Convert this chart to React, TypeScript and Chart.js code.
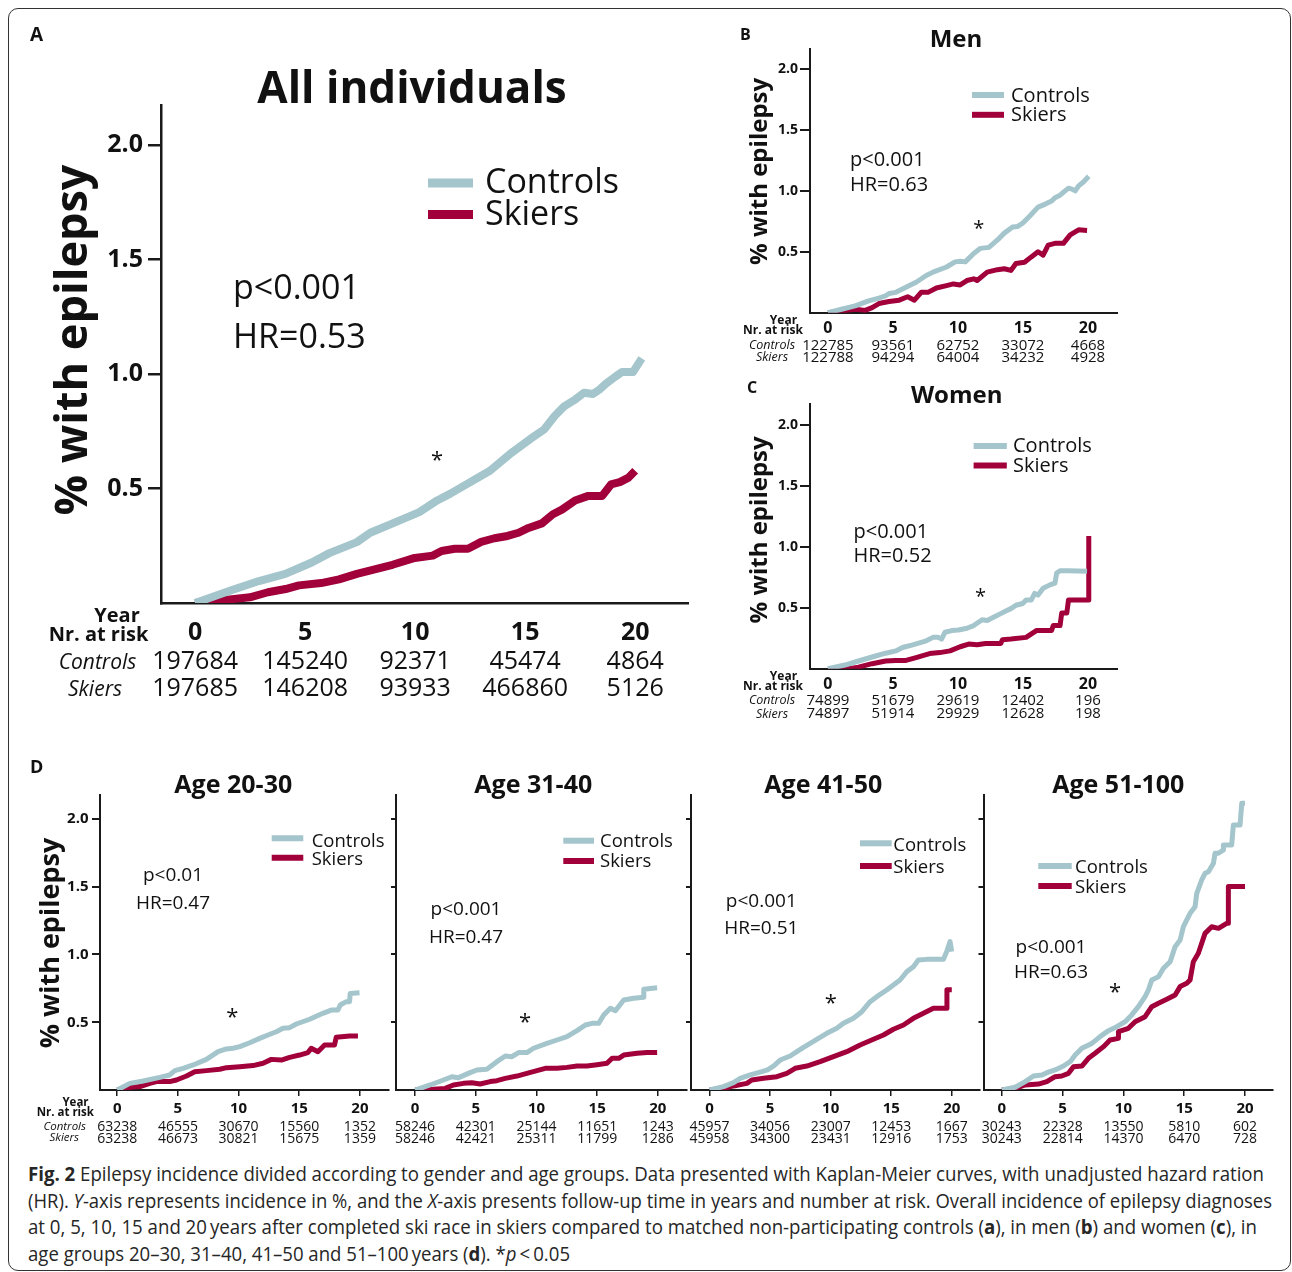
import React, { useEffect, useLayoutEffect, useRef } from 'react';
import { Chart, registerables } from 'chart.js';

Chart.register(...registerables);

type Pt = [number, number];

// ---------- shared axis values ----------
const YEAR_TICKS = [0, 5, 10, 15, 20];
const PCT_TICKS = [0.5, 1.0, 1.5, 2.0];
const SERIES_LABELS = ['Controls', 'Skiers'];
const RISK_ROW_LABELS = ['Year', 'Nr. at risk', 'Controls', 'Skiers'];
const Y_TITLE = '% with epilepsy';

// ---------- A: All individuals ----------
const A_TITLE = 'All individuals';
const A_STATS = ['p<0.001', 'HR=0.53'];
const A_CONTROLS: Pt[] = [[0,0],[1.68,0.057],[2.9,0.096],[4.1,0.127],[5.3,0.177],[6.1,0.218],[7.35,0.266],[7.96,0.307],[8.98,0.348],[10.19,0.397],[11.0,0.448],[11.6,0.478],[13.4,0.578],[14.4,0.658],[15.25,0.718],[15.86,0.758],[16.36,0.819],[16.77,0.859],[17.27,0.889],[17.68,0.919],[18.08,0.913],[18.38,0.933],[18.68,0.959],[19.1,0.989],[19.4,1.009],[19.9,1.009],[20.3,1.069]];
const A_SKIERS: Pt[] = [[0,0],[1.68,0.017],[2.49,0.025],[3.31,0.047],[4.11,0.061],[4.72,0.077],[5.73,0.087],[6.54,0.103],[7.35,0.127],[8.16,0.147],[8.97,0.167],[9.98,0.197],[10.8,0.207],[11.2,0.227],[11.8,0.237],[12.4,0.237],[13.0,0.267],[13.6,0.283],[14.2,0.293],[14.7,0.307],[15.15,0.328],[15.76,0.348],[16.26,0.388],[16.67,0.408],[17.27,0.448],[17.87,0.468],[18.5,0.468],[18.9,0.518],[19.3,0.528],[19.7,0.548],[20.0,0.578]];
const A_RISK_CONTROLS = [197684, 145240, 92371, 45474, 4864];
const A_RISK_SKIERS = [197685, 146208, 93933, 466860, 5126];

// ---------- B: Men ----------
const B_TITLE = 'Men';
const B_STATS = ['p<0.001', 'HR=0.63'];
const B_CONTROLS: Pt[] = [[0,0],[1.05,0.028],[2.09,0.056],[3.13,0.097],[3.92,0.119],[4.44,0.139],[4.7,0.158],[5.22,0.167],[6.0,0.208],[6.78,0.25],[7.56,0.305],[8.08,0.333],[9.12,0.375],[9.78,0.417],[10.17,0.422],[10.56,0.417],[11.21,0.486],[11.73,0.528],[12.38,0.536],[13.04,0.597],[13.56,0.653],[14.2,0.703],[14.6,0.708],[14.99,0.736],[15.51,0.791],[16.16,0.866],[16.68,0.889],[17.2,0.916],[17.46,0.944],[17.85,0.964],[18.24,1.0],[18.5,1.022],[18.76,1.014],[19.02,1.0],[19.28,1.041],[19.67,1.075],[20.06,1.119]];
const B_SKIERS: Pt[] = [[0,0],[1.05,0.014],[2.09,0.028],[2.87,0.019],[3.4,0.042],[3.92,0.075],[4.7,0.092],[5.48,0.103],[6.13,0.131],[6.65,0.103],[7.17,0.167],[7.69,0.167],[8.34,0.203],[9.12,0.222],[9.65,0.236],[10.17,0.228],[10.69,0.264],[11.21,0.278],[11.47,0.264],[12.25,0.333],[13.04,0.353],[13.56,0.361],[14.07,0.347],[14.46,0.403],[15.12,0.414],[15.64,0.458],[16.16,0.5],[16.55,0.472],[16.94,0.555],[17.46,0.569],[18.11,0.569],[18.63,0.639],[19.28,0.68],[19.93,0.675]];
const B_RISK_CONTROLS = [122785, 93561, 62752, 33072, 4668];
const B_RISK_SKIERS = [122788, 94294, 64004, 34232, 4928];

// ---------- C: Women ----------
const C_TITLE = 'Women';
const C_STATS = ['p<0.001', 'HR=0.52'];
const C_CONTROLS: Pt[] = [[0,0],[1.31,0.031],[2.35,0.064],[3.4,0.097],[4.44,0.128],[5.22,0.147],[5.74,0.175],[6.52,0.197],[7.56,0.23],[8.08,0.258],[8.48,0.258],[8.74,0.244],[9.0,0.3],[9.52,0.314],[10.04,0.319],[10.69,0.333],[11.21,0.355],[11.86,0.403],[12.25,0.397],[12.77,0.425],[13.29,0.453],[13.68,0.475],[14.07,0.494],[14.46,0.522],[14.98,0.536],[15.24,0.564],[15.63,0.564],[15.9,0.619],[16.16,0.605],[16.55,0.661],[17.07,0.689],[17.46,0.703],[17.59,0.786],[17.85,0.805],[18.5,0.805],[19.93,0.8]];
const C_SKIERS: Pt[] = [[0,0],[1.57,0],[2.35,0.014],[3.4,0.042],[4.44,0.064],[5.22,0.069],[6.0,0.069],[6.78,0.092],[7.82,0.125],[8.6,0.133],[9.39,0.147],[10.17,0.181],[10.82,0.203],[11.47,0.197],[12.12,0.208],[13.29,0.208],[13.42,0.239],[14.07,0.244],[15.24,0.258],[16.03,0.314],[17.2,0.314],[17.33,0.355],[17.85,0.355],[17.98,0.458],[18.37,0.458],[18.5,0.564],[20.06,0.564],[20.06,1.091]];
const C_RISK_CONTROLS = [74899, 51679, 29619, 12402, 196];
const C_RISK_SKIERS = [74897, 51914, 29929, 12628, 198];

// ---------- D: age groups ----------
const D1_TITLE = 'Age 20-30';
const D1_STATS = ['p<0.01', 'HR=0.47'];
const D1_CONTROLS: Pt[] = [[0,0],[1.04,0.049],[2.14,0.066],[3.51,0.093],[4.33,0.111],[4.75,0.143],[5.43,0.16],[6.26,0.185],[7.35,0.226],[8.31,0.283],[9.0,0.303],[9.55,0.308],[10.1,0.32],[10.92,0.349],[11.74,0.381],[12.43,0.406],[13.11,0.43],[13.66,0.455],[14.21,0.46],[14.76,0.487],[15.86,0.522],[16.95,0.566],[17.64,0.59],[18.19,0.59],[18.38,0.627],[18.88,0.652],[19.15,0.652],[19.2,0.713],[19.97,0.718]];
const D1_SKIERS: Pt[] = [[0,0],[1.04,0.02],[1.87,0.025],[2.69,0.049],[3.24,0.062],[4.33,0.062],[4.88,0.074],[5.71,0.103],[6.39,0.135],[7.35,0.143],[8.45,0.153],[9.0,0.165],[10.1,0.172],[11.19,0.18],[12.02,0.197],[12.7,0.226],[13.53,0.221],[14.21,0.241],[15.03,0.258],[15.72,0.276],[15.99,0.308],[16.54,0.283],[17.09,0.332],[17.91,0.332],[18.05,0.389],[19.15,0.399],[19.84,0.399]];
const D1_RISK_CONTROLS = [63238, 46555, 30670, 15560, 1352];
const D1_RISK_SKIERS = [63238, 46673, 30821, 15675, 1359];

const D2_TITLE = 'Age 31-40';
const D2_STATS = ['p<0.001', 'HR=0.47'];
const D2_CONTROLS: Pt[] = [[0,0],[1.24,0.037],[2.34,0.074],[3.03,0.098],[3.58,0.091],[4.54,0.128],[5.09,0.148],[5.91,0.153],[6.74,0.209],[7.43,0.251],[7.98,0.246],[8.53,0.276],[9.21,0.276],[9.76,0.308],[10.86,0.344],[11.69,0.369],[12.51,0.394],[13.34,0.438],[14.03,0.48],[14.58,0.492],[15.13,0.492],[15.54,0.554],[16.09,0.603],[16.5,0.585],[17.19,0.664],[18.01,0.677],[18.84,0.684],[18.84,0.743],[19.94,0.755]];
const D2_SKIERS: Pt[] = [[0,0],[1.51,0.005],[2.48,0.012],[3.16,0.037],[3.99,0.049],[4.68,0.054],[5.36,0.044],[6.19,0.062],[6.74,0.069],[7.43,0.086],[8.39,0.103],[9.21,0.123],[10.04,0.143],[10.73,0.16],[11.69,0.16],[12.51,0.167],[13.34,0.177],[14.16,0.177],[14.99,0.187],[15.81,0.197],[16.23,0.234],[16.78,0.234],[17.19,0.258],[18.29,0.271],[19.11,0.276],[19.94,0.276]];
const D2_RISK_CONTROLS = [58246, 42301, 25144, 11651, 1243];
const D2_RISK_SKIERS = [58246, 42421, 25311, 11799, 1286];

const D3_TITLE = 'Age 41-50';
const D3_STATS = ['p<0.001', 'HR=0.51'];
const D3_CONTROLS: Pt[] = [[0,0],[1.16,0.025],[1.98,0.054],[2.53,0.086],[3.36,0.111],[4.32,0.135],[4.79,0.148],[5.28,0.177],[5.83,0.221],[6.66,0.251],[7.21,0.283],[7.76,0.315],[8.31,0.344],[8.99,0.381],[9.68,0.418],[10.51,0.455],[11.06,0.492],[11.88,0.529],[12.57,0.578],[13.26,0.652],[13.81,0.689],[14.63,0.738],[15.18,0.775],[15.73,0.812],[16.28,0.873],[16.83,0.91],[17.24,0.959],[17.93,0.964],[19.31,0.964],[19.58,1.021],[19.86,1.095],[19.99,1.021]];
const D3_SKIERS: Pt[] = [[0,0],[1.16,0.012],[1.98,0.03],[3.08,0.049],[3.49,0.074],[4.46,0.086],[5.56,0.098],[6.38,0.123],[7.07,0.16],[8.03,0.177],[9.13,0.209],[10.23,0.246],[11.33,0.283],[12.43,0.332],[13.39,0.369],[14.36,0.406],[15.18,0.448],[16.01,0.48],[16.83,0.529],[17.66,0.566],[18.48,0.603],[19.31,0.603],[19.6,0.603],[19.6,0.74],[20.0,0.74]];
const D3_RISK_CONTROLS = [45957, 34056, 23007, 12453, 1667];
const D3_RISK_SKIERS = [45958, 34300, 23431, 12916, 1753];

const D4_TITLE = 'Age 51-100';
const D4_STATS = ['p<0.001', 'HR=0.63'];
const D4_CONTROLS: Pt[] = [[0,0],[1.1,0.02],[1.92,0.062],[2.6,0.103],[3.29,0.111],[3.7,0.128],[4.38,0.148],[5.07,0.177],[5.62,0.209],[6.03,0.258],[6.58,0.308],[7.4,0.344],[8.08,0.394],[8.77,0.438],[9.45,0.467],[10.14,0.504],[10.68,0.554],[11.23,0.615],[11.78,0.689],[12.05,0.738],[12.33,0.812],[12.88,0.836],[13.29,0.898],[13.84,0.947],[14.25,1.058],[14.66,1.107],[14.93,1.205],[15.48,1.304],[15.89,1.353],[16.03,1.451],[16.44,1.55],[16.71,1.599],[16.99,1.611],[17.4,1.673],[17.53,1.747],[17.81,1.747],[18.22,1.771],[18.22,1.808],[18.9,1.808],[19.04,1.956],[19.59,1.956],[19.73,2.116],[20.0,2.116]];
const D4_SKIERS: Pt[] = [[0,0],[1.1,0.012],[1.92,0.037],[3.01,0.044],[3.7,0.062],[4.38,0.098],[4.93,0.103],[5.48,0.123],[5.89,0.172],[6.58,0.177],[7.12,0.234],[7.67,0.271],[8.36,0.32],[8.9,0.369],[9.59,0.381],[9.59,0.43],[10.41,0.455],[10.96,0.504],[11.78,0.541],[12.33,0.615],[12.88,0.64],[13.56,0.669],[14.25,0.701],[14.66,0.763],[15.21,0.787],[15.48,0.812],[15.75,0.947],[16.16,1.009],[16.71,1.156],[17.26,1.205],[17.81,1.193],[18.49,1.23],[18.63,1.23],[18.63,1.501],[20.0,1.501]];
const D4_RISK_CONTROLS = [30243, 22328, 13550, 5810, 602];
const D4_RISK_SKIERS = [30243, 22814, 14370, 6470, 728];

// ---------- styles ----------
const FONT = '"Open Sans", "Noto Sans", "DejaVu Sans", sans-serif';
const CONTROLS_COLOR = '#a3c5cb';
const SKIERS_COLOR = '#a1003a';
const AXIS_COLOR = '#1a1a1a';
const TEXT_COLOR = '#111111';

const bold = (s: number) => `bold ${s}px ${FONT}`;
const reg = (s: number) => `${s}px ${FONT}`;
const ital = (s: number) => `italic ${s}px ${FONT}`;

interface TextItem { s: string; x: number; y: number; font: string; align?: CanvasTextAlign }
interface PanelCfg {
  id: string;
  canvas: { x: number; y: number; w: number; h: number };
  area: { l: number; t: number; r: number; b: number };
  xMin: number; xMax: number; yMax: number;
  controls: Pt[]; skiers: Pt[];
  lineWidth: number; axisWidth: number;
  yTickLabels: boolean; yTickFont: number; yTickLen: number; yTickPad: number;
  xTickFont: number; xTickPad: number; xTickLen: number;
  texts: TextItem[];
  yTitle?: { x: number; y: number; size: number };
  legend: { x1: number; x2: number; lineY: number[]; lw: number; textX: number; textY: number[]; size: number };
  stats: { lines: string[]; x: number; y: number[]; size: number; align: CanvasTextAlign };
  star: { x: number; y: number; size: number };
  risk: { rows: number[][]; y: number[]; size: number };
}

const riskLabels = (pos: number[][], sizeB: number, sizeI: number): TextItem[] =>
  RISK_ROW_LABELS.map((s, i) => ({ s, x: pos[i][0], y: pos[i][1], font: i < 2 ? bold(sizeB) : ital(sizeI), align: 'center' as CanvasTextAlign }));

const PANELS: PanelCfg[] = [
  {
    id: 'A',
    canvas: { x: 20, y: 20, w: 672, h: 690 },
    area: { l: 161, t: 105, r: 688, b: 603 },
    xMin: -1.55, xMax: 22.4, yMax: 2.176,
    controls: A_CONTROLS, skiers: A_SKIERS,
    lineWidth: 8, axisWidth: 2.5,
    yTickLabels: true, yTickFont: 25, yTickLen: 13, yTickPad: 5,
    xTickFont: 25, xTickPad: 15, xTickLen: 0,
    texts: [
      { s: 'A', x: 30, y: 41, font: bold(19) },
      { s: A_TITLE, x: 412, y: 103, font: bold(44), align: 'center' },
      ...riskLabels([[117, 622], [98.5, 640.5], [97.5, 669.4], [95, 695.6]], 20, 21),
    ],
    yTitle: { x: 74, y: 340, size: 45 },
    legend: { x1: 428, x2: 473, lineY: [183, 214.5], lw: 9, textX: 485, textY: [192.8, 225], size: 34 },
    stats: { lines: A_STATS, x: 233, y: [299.4, 347.6], size: 34, align: 'left' },
    star: { x: 437, y: 467, size: 22 },
    risk: { rows: [A_RISK_CONTROLS, A_RISK_SKIERS], y: [669.4, 695.6], size: 25 },
  },
  {
    id: 'B',
    canvas: { x: 735, y: 22, w: 385, h: 345 },
    area: { l: 810, t: 49, r: 1117.5, b: 312.7 },
    xMin: -1.38, xMax: 22.27, yMax: 2.164,
    controls: B_CONTROLS, skiers: B_SKIERS,
    lineWidth: 5, axisWidth: 2,
    yTickLabels: true, yTickFont: 14, yTickLen: 10, yTickPad: 2,
    xTickFont: 16, xTickPad: 6, xTickLen: 0,
    texts: [
      { s: 'B', x: 740, y: 40.3, font: bold(16) },
      { s: B_TITLE, x: 956, y: 47.1, font: bold(24), align: 'center' },
      ...riskLabels([[783.5, 323.9], [773, 334], [772, 349], [772, 361]], 12, 12.5),
    ],
    yTitle: { x: 760.5, y: 171.4, size: 24 },
    legend: { x1: 972, x2: 1004, lineY: [95, 114.8], lw: 6, textX: 1011, textY: [102.2, 120.5], size: 20 },
    stats: { lines: B_STATS, x: 850, y: [165.5, 190.9], size: 20, align: 'left' },
    star: { x: 978.7, y: 235, size: 20 },
    risk: { rows: [B_RISK_CONTROLS, B_RISK_SKIERS], y: [350, 361.8], size: 15 },
  },
  {
    id: 'C',
    canvas: { x: 735, y: 372, w: 385, h: 350 },
    area: { l: 810, t: 404, r: 1117.5, b: 668.8 },
    xMin: -1.38, xMax: 22.27, yMax: 2.174,
    controls: C_CONTROLS, skiers: C_SKIERS,
    lineWidth: 5, axisWidth: 2,
    yTickLabels: true, yTickFont: 14, yTickLen: 10, yTickPad: 2,
    xTickFont: 16, xTickPad: 6, xTickLen: 0,
    texts: [
      { s: 'C', x: 747, y: 393, font: bold(16) },
      { s: C_TITLE, x: 956.7, y: 402.8, font: bold(24), align: 'center' },
      ...riskLabels([[783.5, 679.6], [773, 689.8], [772, 704], [772, 717.5]], 12, 12.5),
    ],
    yTitle: { x: 760.5, y: 529.9, size: 24 },
    legend: { x1: 973.6, x2: 1006.8, lineY: [446, 465.4], lw: 6, textX: 1013, textY: [452.2, 471.5], size: 20 },
    stats: { lines: C_STATS, x: 853.5, y: [537.5, 562.2], size: 20, align: 'left' },
    star: { x: 980.4, y: 602.7, size: 20 },
    risk: { rows: [C_RISK_CONTROLS, C_RISK_SKIERS], y: [704.5, 717.8], size: 15 },
  },
  {
    id: 'D1',
    canvas: { x: 22, y: 755, w: 370, h: 395 },
    area: { l: 100, t: 795, r: 389, b: 1090 },
    xMin: -1.42, xMax: 22.4, yMax: 2.177,
    controls: D1_CONTROLS, skiers: D1_SKIERS,
    lineWidth: 5, axisWidth: 2,
    yTickLabels: true, yTickFont: 15, yTickLen: 8, yTickPad: 3.5,
    xTickFont: 15, xTickPad: 3.5, xTickLen: 6,
    texts: [
      { s: 'D', x: 30, y: 773.3, font: bold(18) },
      { s: D1_TITLE, x: 233.3, y: 793.3, font: bold(25), align: 'center' },
      ...riskLabels([[75.5, 1106], [65.3, 1116], [64.7, 1129.5], [64.3, 1141]], 11.5, 11.5),
    ],
    yTitle: { x: 51.7, y: 943, size: 27 },
    legend: { x1: 271.7, x2: 303.3, lineY: [838.3, 857.7], lw: 6, textX: 311.7, textY: [846.7, 865], size: 18.5 },
    stats: { lines: D1_STATS, x: 173, y: [880.7, 909.3], size: 19, align: 'center' },
    star: { x: 232.3, y: 1023.7, size: 22 },
    risk: { rows: [D1_RISK_CONTROLS, D1_RISK_SKIERS], y: [1130.7, 1143.3], size: 14 },
  },
  {
    id: 'D2',
    canvas: { x: 386, y: 755, w: 304, h: 395 },
    area: { l: 396, t: 795, r: 687, b: 1090 },
    xMin: -1.57, xMax: 22.4, yMax: 2.177,
    controls: D2_CONTROLS, skiers: D2_SKIERS,
    lineWidth: 5, axisWidth: 2,
    yTickLabels: false, yTickFont: 15, yTickLen: 5, yTickPad: 3,
    xTickFont: 15, xTickPad: 3.5, xTickLen: 6,
    texts: [{ s: D2_TITLE, x: 533.3, y: 793.3, font: bold(25), align: 'center' }],
    legend: { x1: 563.3, x2: 594, lineY: [840.7, 861], lw: 6, textX: 600, textY: [847.3, 867.3], size: 18.5 },
    stats: { lines: D2_STATS, x: 466, y: [915, 942.7], size: 19, align: 'center' },
    star: { x: 525, y: 1028.7, size: 22 },
    risk: { rows: [D2_RISK_CONTROLS, D2_RISK_SKIERS], y: [1130.7, 1143.3], size: 14 },
  },
  {
    id: 'D3',
    canvas: { x: 681, y: 755, w: 302, h: 395 },
    area: { l: 691, t: 795, r: 980, b: 1090 },
    xMin: -1.53, xMax: 22.33, yMax: 2.177,
    controls: D3_CONTROLS, skiers: D3_SKIERS,
    lineWidth: 5, axisWidth: 2,
    yTickLabels: false, yTickFont: 15, yTickLen: 5, yTickPad: 3,
    xTickFont: 15, xTickPad: 3.5, xTickLen: 6,
    texts: [{ s: D3_TITLE, x: 823.3, y: 793.3, font: bold(25), align: 'center' }],
    legend: { x1: 860, x2: 891.7, lineY: [843.3, 866], lw: 6, textX: 893.3, textY: [850.7, 873.3], size: 18.5 },
    stats: { lines: D3_STATS, x: 761.3, y: [906.7, 934], size: 19, align: 'center' },
    star: { x: 830.7, y: 1010.3, size: 22 },
    risk: { rows: [D3_RISK_CONTROLS, D3_RISK_SKIERS], y: [1130.7, 1143.3], size: 14 },
  },
  {
    id: 'D4',
    canvas: { x: 974, y: 755, w: 303, h: 395 },
    area: { l: 983.5, t: 795, r: 1273, b: 1090 },
    xMin: -1.51, xMax: 22.3, yMax: 2.177,
    controls: D4_CONTROLS, skiers: D4_SKIERS,
    lineWidth: 5, axisWidth: 2,
    yTickLabels: false, yTickFont: 15, yTickLen: 5, yTickPad: 3,
    xTickFont: 15, xTickPad: 3.5, xTickLen: 6,
    texts: [{ s: D4_TITLE, x: 1118.3, y: 793.3, font: bold(25), align: 'center' }],
    legend: { x1: 1038.3, x2: 1071.7, lineY: [866, 886], lw: 6, textX: 1075, textY: [872.7, 893.3], size: 18.5 },
    stats: { lines: D4_STATS, x: 1051, y: [952.7, 978.3], size: 19, align: 'center' },
    star: { x: 1115, y: 998.7, size: 22 },
    risk: { rows: [D4_RISK_CONTROLS, D4_RISK_SKIERS], y: [1130.7, 1143.3], size: 14 },
  },
];

function decorPlugin(cfg: PanelCfg) {
  return {
    id: 'decor' + cfg.id,
    afterDraw(chart: any) {
      const ctx: CanvasRenderingContext2D = chart.ctx;
      const ox = cfg.canvas.x;
      const oy = cfg.canvas.y;
      const put = (s: string, x: number, y: number, font: string, align: CanvasTextAlign = 'left') => {
        ctx.font = font;
        ctx.fillStyle = TEXT_COLOR;
        ctx.textAlign = align;
        ctx.textBaseline = 'alphabetic';
        ctx.fillText(s, x - ox, y - oy);
      };
      ctx.save();
      cfg.texts.forEach((t) => put(t.s, t.x, t.y, t.font, t.align || 'left'));
      if (cfg.yTitle) {
        ctx.save();
        ctx.translate(cfg.yTitle.x - ox, cfg.yTitle.y - oy);
        ctx.rotate(-Math.PI / 2);
        ctx.font = bold(cfg.yTitle.size);
        ctx.fillStyle = TEXT_COLOR;
        ctx.textAlign = 'center';
        ctx.textBaseline = 'middle';
        ctx.fillText(Y_TITLE, 0, 0);
        ctx.restore();
      }
      const L = cfg.legend;
      chart.data.datasets.forEach((ds: any, i: number) => {
        ctx.strokeStyle = ds.borderColor;
        ctx.lineWidth = L.lw;
        ctx.lineCap = 'butt';
        ctx.beginPath();
        ctx.moveTo(L.x1 - ox, L.lineY[i] - oy);
        ctx.lineTo(L.x2 - ox, L.lineY[i] - oy);
        ctx.stroke();
        put(ds.label, L.textX, L.textY[i], reg(L.size));
      });
      cfg.stats.lines.forEach((s, i) => put(s, cfg.stats.x, cfg.stats.y[i], reg(cfg.stats.size), cfg.stats.align));
      put('*', cfg.star.x, cfg.star.y, reg(cfg.star.size), 'center');
      const xs = chart.scales.x;
      cfg.risk.rows.forEach((row, r) => {
        row.forEach((n, j) => {
          ctx.font = reg(cfg.risk.size);
          ctx.fillStyle = TEXT_COLOR;
          ctx.textAlign = 'center';
          ctx.textBaseline = 'alphabetic';
          ctx.fillText(String(n), xs.getPixelForValue(YEAR_TICKS[j]), cfg.risk.y[r] - oy);
        });
      });
      ctx.restore();
    },
  };
}

function KMPanel({ cfg }: { cfg: PanelCfg }) {
  const ref = useRef<HTMLCanvasElement>(null);
  useEffect(() => {
    const el = ref.current;
    if (!el) return;
    const { canvas: cv, area } = cfg;
    const yW = area.l - cv.x;
    const xH = cv.y + cv.h - area.b;
    const chart = new Chart(el, {
      type: 'line',
      data: {
        datasets: [
          {
            label: SERIES_LABELS[0],
            data: cfg.controls.map(([x, y]) => ({ x, y })),
            borderColor: CONTROLS_COLOR,
            backgroundColor: CONTROLS_COLOR,
            borderWidth: cfg.lineWidth,
          },
          {
            label: SERIES_LABELS[1],
            data: cfg.skiers.map(([x, y]) => ({ x, y })),
            borderColor: SKIERS_COLOR,
            backgroundColor: SKIERS_COLOR,
            borderWidth: cfg.lineWidth,
          },
        ],
      },
      options: {
        responsive: false,
        animation: false,
        events: [],
        layout: { padding: { top: area.t - cv.y, right: cv.x + cv.w - area.r, left: 0, bottom: 0 } },
        elements: {
          point: { radius: 0 },
          line: { tension: 0, borderJoinStyle: 'round', borderCapStyle: 'butt', fill: false },
        },
        scales: {
          x: {
            type: 'linear',
            min: cfg.xMin,
            max: cfg.xMax,
            afterBuildTicks: (s: any) => { s.ticks = YEAR_TICKS.map((value) => ({ value })); },
            afterFit: (s: any) => { s.height = xH; },
            grid: cfg.xTickLen > 0
              ? {
                  display: true,
                  drawOnChartArea: false,
                  drawTicks: true,
                  tickLength: cfg.xTickLen,
                  color: AXIS_COLOR,
                  tickColor: AXIS_COLOR,
                  lineWidth: 1.5,
                  tickWidth: 1.5,
                }
              : { display: false, drawTicks: false },
            border: { display: true, color: AXIS_COLOR, width: cfg.axisWidth },
            ticks: {
              font: { family: FONT, size: cfg.xTickFont, weight: 'bold' },
              color: TEXT_COLOR,
              padding: cfg.xTickPad,
              maxRotation: 0,
              autoSkip: false,
              callback: (v: any) => String(v),
            },
          },
          y: {
            type: 'linear',
            min: 0,
            max: cfg.yMax,
            afterBuildTicks: (s: any) => { s.ticks = PCT_TICKS.map((value) => ({ value })); },
            afterFit: (s: any) => { s.width = yW; },
            grid: {
              display: true,
              drawOnChartArea: false,
              drawTicks: true,
              tickLength: cfg.yTickLen,
              color: AXIS_COLOR,
              tickColor: AXIS_COLOR,
              lineWidth: cfg.axisWidth,
              tickWidth: cfg.axisWidth,
            },
            border: { display: true, color: AXIS_COLOR, width: cfg.axisWidth },
            ticks: {
              display: cfg.yTickLabels,
              font: { family: FONT, size: cfg.yTickFont, weight: 'bold' },
              color: TEXT_COLOR,
              padding: cfg.yTickPad,
              callback: (v: any) => Number(v).toFixed(1),
            },
          },
        },
        plugins: { legend: { display: false }, tooltip: { enabled: false }, title: { display: false } },
      } as any,
      plugins: [decorPlugin(cfg)],
    });
    return () => chart.destroy();
  }, [cfg]);
  return (
    <canvas
      ref={ref}
      width={cfg.canvas.w}
      height={cfg.canvas.h}
      style={{ position: 'absolute', left: cfg.canvas.x, top: cfg.canvas.y, width: cfg.canvas.w, height: cfg.canvas.h }}
    />
  );
}

// ---------- caption ----------
interface Seg { t: string; b?: boolean; i?: boolean }
const CAPTION: Seg[][] = [
  [{ t: 'Fig. 2', b: true }, { t: ' Epilepsy incidence divided according to gender and age groups. Data presented with Kaplan-Meier curves, with unadjusted hazard ration' }],
  [{ t: '(HR). ' }, { t: 'Y', i: true }, { t: '-axis represents incidence in %, and the ' }, { t: 'X', i: true }, { t: '-axis presents follow-up time in years and number at risk. Overall incidence of epilepsy diagnoses' }],
  [{ t: 'at 0, 5, 10, 15 and 20\u2009years after completed ski race in skiers compared to matched non-participating controls (' }, { t: 'a', b: true }, { t: '), in men (' }, { t: 'b', b: true }, { t: ') and women (' }, { t: 'c', b: true }, { t: '), in' }],
  [{ t: 'age groups 20\u201330, 31\u201340, 41\u201350 and 51\u2013100\u2009years (' }, { t: 'd', b: true }, { t: '). *' }, { t: 'p', i: true }, { t: '\u2009<\u20090.05' }],
];
const CAPTION_WIDTHS = [1236, 1244, 1229, 542];
const CAPTION_TOPS = [1164, 1190.5, 1217, 1243.5];

function CaptionLine({ segs, top, width }: { segs: Seg[]; top: number; width: number }) {
  const ref = useRef<HTMLDivElement>(null);
  useLayoutEffect(() => {
    const el = ref.current;
    if (!el) return;
    el.style.transform = 'none';
    const w = el.getBoundingClientRect().width;
    if (w > 0) el.style.transform = `scaleX(${width / w})`;
  }, [width]);
  return (
    <div
      ref={ref}
      style={{
        position: 'absolute', left: 28, top, whiteSpace: 'nowrap', transformOrigin: '0 0',
        fontFamily: FONT, fontSize: 20, lineHeight: '20px', color: '#262626',
      }}
    >
      {segs.map((s, k) => (
        <span key={k} style={{ fontWeight: s.b ? 700 : 400, fontStyle: s.i ? 'italic' : 'normal' }}>{s.t}</span>
      ))}
    </div>
  );
}

export default function App() {
  return (
    <div style={{ position: 'absolute', left: 0, top: 0, width: 1292, height: 1272, background: '#fff', overflow: 'hidden' }}>
      <div
        style={{
          position: 'absolute', left: 8, top: 8, width: 1283, height: 1263,
          border: '1.5px solid #333', borderRadius: 10, boxSizing: 'border-box',
        }}
      />
      {PANELS.map((p) => <KMPanel key={p.id} cfg={p} />)}
      {CAPTION.map((segs, i) => (
        <CaptionLine key={i} segs={segs} top={CAPTION_TOPS[i]} width={CAPTION_WIDTHS[i]} />
      ))}
    </div>
  );
}
